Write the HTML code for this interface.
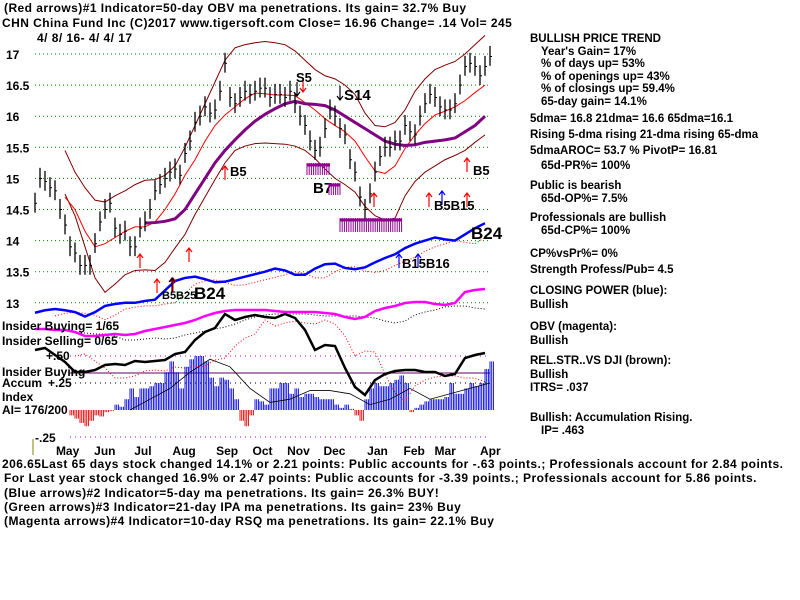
<!DOCTYPE html>
<html><head><meta charset="utf-8"><style>
body{margin:0;background:#fff;}
svg{display:block;font-family:"Liberation Sans",sans-serif;}
.t{font-size:12px;font-weight:bold;fill:#000;}
.w{letter-spacing:0.45px;}
.r{font-size:11.5px;font-weight:bold;fill:#000;}
</style></head><body>
<svg id="c" width="800" height="600" viewBox="0 0 800 600">
<g id="grid"></g>
<g id="ylab"></g>
<g id="series"></g>
<g id="anno"></g>
<g>
<text class="t w" x="4" y="12">(Red arrows)#1 Indicator=50-day OBV ma penetrations. Its gain= 32.7% Buy</text>
<text class="t w" x="2" y="27">CHN  China Fund Inc  (C)2017 www.tigersoft.com     Close=  16.96  Change= .14 Vol= 245</text>
<text class="t w" x="37" y="42">4/ 8/ 16- 4/ 4/ 17</text>
</g>
<g>
<text class="t" x="2" y="330">Insider Buying= 1/65</text>
<text class="t" x="2" y="345">Insider Selling= 0/65</text>
<text class="t" x="46" y="360">+.50</text>
<text class="t" x="2" y="376">Insider Buying</text>
<text class="t" x="2" y="387">Accum</text>
<text class="t" x="48" y="387">+.25</text>
<text class="t" x="2" y="401">Index</text>
<text class="t" x="2" y="414">AI= 176/200</text>
<text class="t" x="35" y="442">-.25</text>
</g>
<line x1="33" y1="439" x2="33" y2="455" stroke="#808000" stroke-width="1"/>
<g id="months"></g>
<g>
<text class="t w" x="2" y="468">206.65Last 65 days stock changed  14.1% or  2.21 points:  Public accounts for -.63 points.;  Professionals account for  2.84 points.</text>
<text class="t w" x="4" y="482">For Last year stock changed  16.9% or  2.47 points:  Public accounts for -3.39 points.;  Professionals account for  5.86 points.</text>
<text class="t w" x="4" y="497">(Blue arrows)#2 Indicator=5-day ma penetrations. Its gain= 26.3% BUY!</text>
<text class="t w" x="4" y="511">(Green arrows)#3 Indicator=21-day IPA ma penetrations. Its gain= 23% Buy</text>
<text class="t w" x="4" y="525">(Magenta arrows)#4 Indicator=10-day RSQ ma penetrations. Its gain= 22.1% Buy</text>
</g>
<g>
<text class="r" x="530" y="42">BULLISH PRICE TREND</text>
<text class="r" x="541" y="55">Year's Gain= 17%</text>
<text class="r" x="541" y="67">% of days up= 53%</text>
<text class="r" x="541" y="80">% of openings up= 43%</text>
<text class="r" x="541" y="92">% of closings up= 59.4%</text>
<text class="r" x="541" y="105">65-day gain= 14.1%</text>
<text class="r" x="530" y="122">5dma= 16.8 21dma= 16.6 65dma=16.1</text>
<text class="r" x="530" y="138">Rising 5-dma rising 21-dma rising 65-dma</text>
<text class="r" x="530" y="154">5dmaAROC= 53.7 %  PivotP= 16.81</text>
<text class="r" x="541" y="169">65d-PR%= 100%</text>
<text class="r" x="530" y="189">Public is bearish</text>
<text class="r" x="541" y="202">65d-OP%= 7.5%</text>
<text class="r" x="530" y="221">Professionals are bullish</text>
<text class="r" x="541" y="234">65d-CP%= 100%</text>
<text class="r" x="530" y="257">CP%vsPr%=  0%</text>
<text class="r" x="530" y="273">Strength Profess/Pub= 4.5</text>
<text class="r" x="530" y="294">CLOSING POWER (blue):</text>
<text class="r" x="530" y="308">Bullish</text>
<text class="r" x="530" y="330">OBV (magenta):</text>
<text class="r" x="530" y="344">Bullish</text>
<text class="r" x="530" y="364">REL.STR..VS DJI (brown):</text>
<text class="r" x="530" y="378">Bullish</text>
<text class="r" x="530" y="391">ITRS= .037</text>
<text class="r" x="530" y="421">Bullish: Accumulation Rising.</text>
<text class="r" x="541" y="434">IP=  .463</text>
</g>
</svg>
<script>
// ---- data ----
const priceTicks=[17,16.5,16,15.5,15,14.5,14,13.5,13];
const priceTickLabels=["17","16.5","16","15.5","15","14.5","14","13.5","13"];
const months=["May","Jun","Jul","Aug","Sep","Oct","Nov","Dec","Jan","Feb","Mar","Apr"];
const monthDays=[17,38,60,81,105,125,144,164,188,208,225,250];
const closes=[14.6,15.0,14.95,14.85,14.8,14.5,14.25,13.9,13.8,13.6,13.6,13.6,13.95,14.3,14.5,14.6,14.2,14.1,14.15,13.9,13.9,14.2,14.3,14.5,14.8,14.9,15.0,15.1,15.15,15.05,15.4,15.6,15.9,16.0,16.15,16.05,16.1,16.4,16.85,16.3,16.2,16.3,16.4,16.35,16.4,16.45,16.45,16.3,16.35,16.35,16.3,16.4,16.2,16.0,15.85,15.6,15.45,15.5,15.8,16.1,16.0,15.8,15.7,15.3,15.1,14.7,14.5,14.75,15.1,15.35,15.5,15.5,15.6,15.6,15.85,15.75,15.7,16.0,16.2,16.35,16.3,16.15,16.1,16.1,16.2,16.5,16.8,16.85,16.8,16.65,16.8,16.96];
const upperBand=[15.45,15.1,14.85,14.65,14.62,14.72,14.8,14.9,14.97,14.98,15.05,15.2,15.5,15.85,16.2,16.55,16.9,17.1,17.15,17.18,17.2,17.18,17.15,17.05,16.9,16.75,16.65,16.6,16.5,16.35,16.05,15.85,15.83,15.9,16.1,16.4,16.6,16.75,16.82,16.88,17.0,17.15,17.3];
const lowerBand=[14.75,14.4,13.9,13.4,13.17,13.3,13.45,13.52,13.53,13.52,13.65,13.88,14.1,14.42,14.7,14.98,15.25,15.45,15.52,15.56,15.57,15.56,15.55,15.52,15.45,15.32,15.15,15.0,14.9,14.78,14.55,14.4,14.33,14.36,14.72,14.95,15.1,15.2,15.3,15.37,15.45,15.58,15.7];
const ma21=[14.7,14.5,14.15,13.9,13.95,14.05,14.15,14.22,14.22,14.3,14.5,14.75,15.05,15.3,15.6,15.85,16.02,16.15,16.28,16.37,16.36,16.34,16.34,16.33,16.22,16.1,15.96,15.85,15.75,15.6,15.35,15.12,15.08,15.2,15.48,15.7,15.88,16.02,16.08,16.15,16.25,16.38,16.5];
const ma65=[14.28,14.29,14.31,14.35,14.5,14.75,15.0,15.25,15.45,15.62,15.78,15.92,16.03,16.12,16.2,16.24,16.2,16.19,16.17,16.1,16.0,15.9,15.8,15.7,15.6,15.55,15.53,15.54,15.58,15.6,15.62,15.65,15.75,15.85,16.0];
const closingPower=[12.84,12.88,12.9,12.88,12.85,12.78,12.85,12.95,12.98,13.0,13.0,13.03,13.05,13.2,13.35,13.4,13.42,13.38,13.33,13.34,13.38,13.42,13.46,13.5,13.55,13.52,13.45,13.45,13.55,13.62,13.63,13.56,13.54,13.57,13.65,13.72,13.78,13.88,13.95,14.0,14.05,14.02,14.0,14.1,14.2,14.28];
const obv=[21,21,20,20,18,14,14,15,16,15,16,19,21,23,25,27,30,34,37,39,40,40,40,40,39,38,38,38,38,37,36,33,31,33,39,42,44,47,48,48,46,45,47,58,60,61];
const relStr=[70,72,65,58,48,48,50,55,56,55,59,58,59,60,66,68,80,88,92,106,100,103,105,103,102,106,102,90,70,75,74,52,33,25,40,46,49,50,50,48,48,44,46,62,65,67];
const accum=[-0.05,-0.08,-0.12,-0.15,-0.1,-0.05,-0.06,-0.02,-0.01,0.05,0.03,0.1,0.2,0.12,0.2,0.2,0.22,0.25,0.25,0.35,0.45,0.35,0.2,0.4,0.47,0.5,0.5,0.45,0.3,0.22,0.3,0.28,0.2,0.1,-0.1,-0.15,-0.05,0.1,0.08,0.05,0.2,0.2,0.25,0.25,0.15,0.2,0.12,0.15,0.15,0.12,0.1,0.1,0.1,0.05,0.02,0.05,0.01,-0.05,-0.1,0.1,0.2,0.25,0.22,0.22,0.25,0.28,0.32,0.25,-0.02,0.02,0.05,0.08,0.1,0.1,0.1,0.12,0.25,0.15,0.15,0.2,0.25,0.22,0.25,0.38,0.45];
const accumMA=[0.0,0.1,0.2,0.35,0.47,0.4,0.2,0.07,0.1,0.18,0.18,0.15,0.05,0.1,0.2,0.1,0.15,0.2,0.25];
// ---- scales ----
const NS="http://www.w3.org/2000/svg";
const py=p=>54+(17-p)*62.2;
const sx=i=>35+i*5;
const dx=d=>35+d*1.82;
const ay=v=>410-v*108;
const oy=v=>350-v;
const ry=v=>420-v;
function mk(tag,parent,attrs){const e=document.createElementNS(NS,tag);for(const k in attrs)e.setAttribute(k,attrs[k]);document.getElementById(parent).appendChild(e);return e;}
priceTicks.forEach((p,i)=>{
 const l=mk('line','grid',{x1:35,x2:490,y1:py(p),y2:py(p),stroke:'#008000','stroke-dasharray':'1,3'});
 
 
 const t=mk('text','ylab',{x:6,y:py(p)+5,'class':'t','font-size':'13'});
 t.textContent=priceTickLabels[i];
 
 
});
[[0.5,'#c000c0'],[0.25,'#000'],[-0.25,'#c000c0']].forEach(a=>{
 const l=mk('line','grid',{x1:70,x2:490,y1:ay(a[0]),y2:ay(a[0]),stroke:a[1],'stroke-dasharray':'1,4'});
 
 
});
const hl=mk('line','grid',{x1:70,x2:490,y1:373,y2:373,stroke:'#600060'});


months.forEach((m,i)=>{
 const t=mk('text','months',{x:dx(monthDays[i])-10,y:455,'class':'t'});
 t.textContent=m;
 
 
});
accum.forEach((v,i)=>{
 const x=70+i*5;
 for(let k=0;k<3;k++){
  const l=mk('line','series',{x1:x+k*1.7,x2:x+k*1.7,y1:ay(0),y2:ay(v),stroke:v>=0?'#0000e0':'#e00000','stroke-width':0.9});
  
  
 }
});
function line(arr,start,step,yf,color,w,name,dash){
 const pts=arr.map((v,i)=>(start+i*step)+','+yf(v)).join(' ');
 const p=mk('polyline','series',{points:pts,fill:'none',stroke:color,'stroke-width':w});
 if(dash)p.setAttribute('stroke-dasharray',dash);
 
 
}
line(accumMA,130,20,ay,'#000',0.8,'accum-ma');
line(upperBand,65,10,py,'#800000',1,'upper-band');
line(lowerBand,65,10,py,'#800000',1,'lower-band');
line(ma21,65,10,py,'#ff0000',1,'ma-21');
line(ma65,145,10,py,'#800080',3,'ma-65');
line(closingPower.slice(0,-2).map(v=>v-0.05),55,10,py,'#ff0000',1,'closing-power-ma','1,2');
line(closingPower,35,10,py,'#0000ff',2.5,'closing-power');
line(obv.slice(0,-4).map(v=>v-4),75,10,oy,'#000',1,'obv-ma','1,2');
line(obv,35,10,oy,'#ff00ff',2.5,'obv');
line(relStr.slice(0,-4).map(v=>v-6),75,10,ry,'#ff0000',1,'rel-strength-ma','1,2');
line(relStr,35,10,ry,'#000',2.5,'rel-strength');
closes.forEach((c,i)=>{
 const x=sx(i);
 const l=mk('line','series',{x1:x,x2:x,y1:py(c+0.17),y2:py(c-0.15),stroke:'#000','stroke-width':1.3});
 
 
 const t=mk('line','series',{x1:x,x2:x+2,y1:py(c),y2:py(c),stroke:'#000','stroke-width':1});
 
 
});
function arrow(x,y,col,up){
 const d=up?`M${x},${y} l0,-14 M${x-3},${y-10} l3,-4 l3,4`:`M${x},${y} l0,14 M${x-3},${y+10} l3,4 l3,-4`;
 const a=mk('path','anno',{d:d,stroke:col,fill:'none','stroke-width':1.2});
 
 
}
[[140,268,'#f00'],[189,262,'#f00'],[157,293,'#f00'],[173,292,'#f00'],[225,180,'#f00'],[429,207,'#f00'],[467,207,'#f00'],[467,172,'#f00'],[374,207,'#f00'],[442,205,'#00f'],[399,268,'#00f'],[418,268,'#00f'],[172,292,'#000']].forEach(a=>arrow(a[0],a[1],a[2],true));
[[297,82,'#000'],[340,86,'#000'],[303,78,'#f00']].forEach(a=>arrow(a[0],a[1],a[2],false));
function lab(x,y,s,fs,name){
 const t=mk('text','anno',{x:x,y:y,'font-size':fs,'font-weight':'bold',fill:'#000'});
 t.textContent=s;
 
 
}
lab(230,176,'B5',13,'b5-label');lab(296,82,'S5',13,'s5-label');lab(344,100,'S14',15,'s14-label');
lab(313,193,'B7',15,'b7-label');lab(473,175,'B5',13,'b5-label-2');lab(434,210,'B5B15',13,'b5b15-label');
lab(471,239,'B24',17,'b24-label');lab(194,299,'B24',17,'b24-label-2');lab(162,299,'B5B25',11,'b5b25-label');
lab(402,268,'B15B16',13,'b15b16-label');
function hatch(x1,x2,yTop,yBot,name){
 for(let x=x1;x<=x2;x+=2.2){
  const l=mk('line','anno',{x1:x,x2:x,y1:yTop,y2:yBot,stroke:'#900090','stroke-width':1});
  
  
 }
 const b=mk('line','anno',{x1:x1,x2:x2,y1:yTop+2,y2:yTop+2,stroke:'#900090','stroke-width':3});
 
 
}
hatch(307,330,163,175,'b7-hatch');hatch(329,340,183,195,'b7-hatch-2');hatch(340,402,218,232,'hatch-block');
</script>
</body></html>
